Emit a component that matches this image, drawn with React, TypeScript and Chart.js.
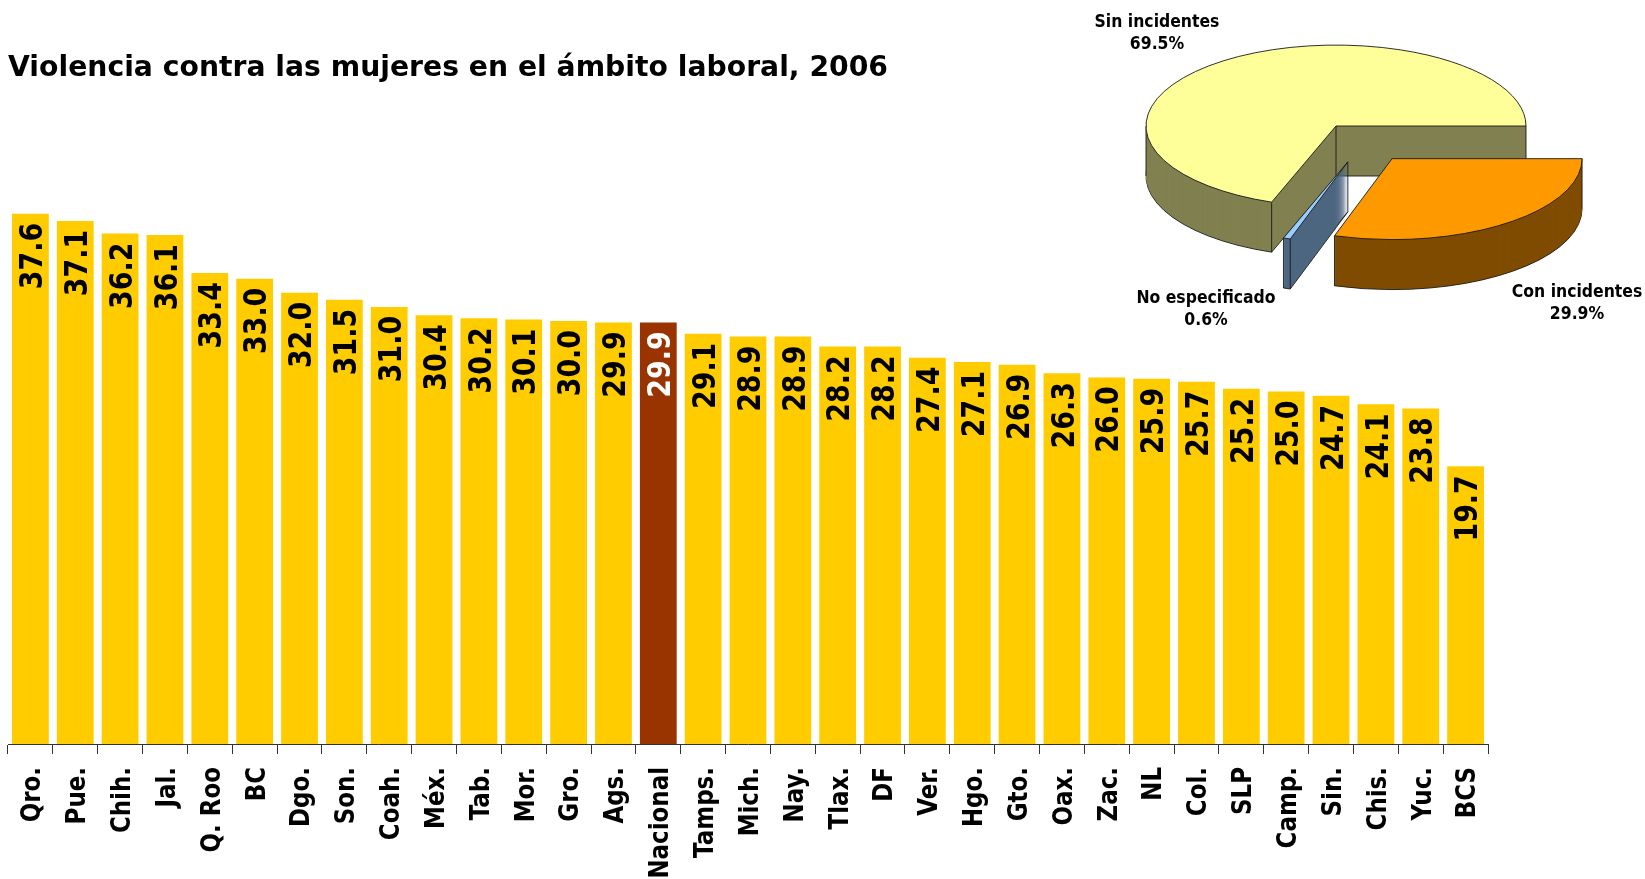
import React, { useEffect, useRef } from "react";
import { Chart, registerables } from "chart.js";
Chart.register(...registerables);

const TITLE = "Violencia contra las mujeres en el ámbito laboral, 2006";

const states = [
  "Qro.", "Pue.", "Chih.", "Jal.", "Q. Roo", "BC", "Dgo.", "Son.", "Coah.", "Méx.",
  "Tab.", "Mor.", "Gro.", "Ags.", "Nacional", "Tamps.", "Mich.", "Nay.", "Tlax.", "DF",
  "Ver.", "Hgo.", "Gto.", "Oax.", "Zac.", "NL", "Col.", "SLP", "Camp.", "Sin.",
  "Chis.", "Yuc.", "BCS",
];
const values = [
  37.6, 37.1, 36.2, 36.1, 33.4, 33.0, 32.0, 31.5, 31.0, 30.4,
  30.2, 30.1, 30.0, 29.9, 29.9, 29.1, 28.9, 28.9, 28.2, 28.2,
  27.4, 27.1, 26.9, 26.3, 26.0, 25.9, 25.7, 25.2, 25.0, 24.7,
  24.1, 23.8, 19.7,
];
const HIGHLIGHT = "Nacional";

const pieLabels = ["Con incidentes", "No especificado", "Sin incidentes"];
const pieValues = [29.9, 0.6, 69.5];

// ---- styles ----
const FONT = '"DejaVu Sans", Verdana, sans-serif';
const BAR_COLOR = "#FFCC00";
const HIGHLIGHT_COLOR = "#993300";
const PIE_TOP = ["#FF9900", "#99CCFF", "#FFFF99"];
const PIE_WALL = ["#7F4C00", "#4D6680", "#808050"];
const PIE_EXPLODE = [
  { dist: 95, dir: null as number | null },
  { dist: 85, dir: 82 },
  { dist: 0, dir: null as number | null },
];
const PIE_TILT = 0.426;
const PIE_DEPTH = 50;
const PIE_LEFT = 1080;
const PIE_LABEL_POS = [
  { x: 1577, y: 296.5 },
  { x: 1206, y: 302.5 },
  { x: 1157, y: 26.5 },
];

function drawText(
  ctx: CanvasRenderingContext2D,
  text: string,
  x: number,
  y: number,
  font: string,
  sx: number,
  angle: number,
  align: CanvasTextAlign,
  color: string
) {
  ctx.save();
  ctx.translate(x, y);
  ctx.rotate(angle);
  ctx.scale(sx, 1);
  ctx.font = font;
  ctx.textAlign = align;
  ctx.textBaseline = "alphabetic";
  ctx.fillStyle = color;
  ctx.fillText(text, 0, 0);
  ctx.restore();
}

const barLabels = {
  id: "barLabels",
  afterDatasetsDraw(chart: any) {
    const ctx = chart.ctx as CanvasRenderingContext2D;
    const meta = chart.getDatasetMeta(0);
    const xScale = chart.scales.x;
    const valFs = 32;
    const labFs = 27;
    meta.data.forEach((el: any, i: number) => {
      const { x, y } = el.getProps(["x", "y"], true);
      const isHi = states[i] === HIGHLIGHT;
      drawText(
        ctx,
        values[i].toFixed(1),
        x + 0.3645 * valFs,
        y + 9,
        `bold ${valFs}px ${FONT}`,
        0.84,
        -Math.PI / 2,
        "right",
        isHi ? "#FFFFFF" : "#000000"
      );
      const lx = xScale.getPixelForValue(i);
      drawText(
        ctx,
        states[i],
        lx + 0.3645 * labFs,
        767,
        `bold ${labFs}px ${FONT}`,
        0.85,
        -Math.PI / 2,
        "right",
        "#000000"
      );
    });
    // title
    const tf = `bold 29px ${FONT}`;
    ctx.save();
    ctx.font = tf;
    const w = ctx.measureText(TITLE).width;
    ctx.restore();
    drawText(ctx, TITLE, 8, 76, tf, 880 / w, 0, "left", "#000000");
  },
};

const pie3d = {
  id: "pie3d",
  afterDatasetsDraw(chart: any) {
    const ctx = chart.ctx as CanvasRenderingContext2D;
    const meta = chart.getDatasetMeta(0);
    const order = [2, 1, 0];
    const edge = "rgba(25,25,25,0.9)";
    for (const i of order) {
      const el = meta.data[i];
      const { x, y, startAngle, endAngle, outerRadius } = el.getProps(
        ["x", "y", "startAngle", "endAngle", "outerRadius"],
        true
      );
      const ex = PIE_EXPLODE[i];
      const dir = ex.dir !== null ? (ex.dir * Math.PI) / 180 : (startAngle + endAngle) / 2;
      const cx = x + Math.cos(dir) * ex.dist;
      const cy = y + Math.sin(dir) * ex.dist * PIE_TILT;
      const R = outerRadius;
      const path = (d: number) => {
        ctx.save();
        ctx.translate(cx, cy + d);
        ctx.scale(1, PIE_TILT);
        ctx.beginPath();
        ctx.moveTo(0, 0);
        ctx.arc(0, 0, R, startAngle, endAngle);
        ctx.closePath();
        ctx.restore();
      };
      ctx.save();
      ctx.lineWidth = 1;
      ctx.strokeStyle = edge;
      ctx.fillStyle = PIE_WALL[i];
      path(PIE_DEPTH);
      ctx.fill();
      ctx.stroke();
      for (let d = PIE_DEPTH - 1; d >= 1; d--) {
        path(d);
        ctx.fill();
      }
      // vertical edges
      const pts: number[][] = [[cx, cy]];
      const angs = [startAngle, endAngle];
      for (const a of [0, Math.PI, 2 * Math.PI]) {
        if (a > startAngle && a < endAngle) angs.push(a);
      }
      for (const a of angs) pts.push([cx + R * Math.cos(a), cy + R * Math.sin(a) * PIE_TILT]);
      ctx.beginPath();
      for (const p of pts) {
        ctx.moveTo(p[0], p[1]);
        ctx.lineTo(p[0], p[1] + PIE_DEPTH);
      }
      ctx.stroke();
      ctx.fillStyle = PIE_TOP[i];
      path(0);
      ctx.fill();
      ctx.stroke();
      ctx.restore();
    }
    // labels
    pieLabels.forEach((lab, i) => {
      const p = PIE_LABEL_POS[i];
      drawText(ctx, lab, p.x - PIE_LEFT, p.y, `bold 18px ${FONT}`, 0.87, 0, "center", "#000");
      drawText(
        ctx,
        pieValues[i].toFixed(1) + "%",
        p.x - PIE_LEFT,
        p.y + 22,
        `bold 18px ${FONT}`,
        0.87,
        0,
        "center",
        "#000"
      );
    });
  },
};

export default function App() {
  const barRef = useRef<HTMLCanvasElement>(null);
  const pieRef = useRef<HTMLCanvasElement>(null);

  useEffect(() => {
    const bar = new Chart(barRef.current!, {
      type: "bar",
      data: {
        labels: states,
        datasets: [
          {
            data: values,
            backgroundColor: states.map((s) => (s === HIGHLIGHT ? HIGHLIGHT_COLOR : BAR_COLOR)),
            borderWidth: 0,
            barPercentage: 0.82,
            categoryPercentage: 1.0,
          },
        ],
      },
      options: {
        responsive: false,
        animation: false,
        layout: { padding: { top: 180, bottom: 125, left: 8, right: 157 } },
        plugins: { legend: { display: false }, tooltip: { enabled: false }, title: { display: false } },
        scales: {
          x: {
            offset: true,
            ticks: { display: false },
            grid: {
              display: true,
              drawOnChartArea: false,
              drawTicks: true,
              tickLength: 10,
              color: "#333333",
              offset: true,
            },
            border: { display: true, color: "#333333", width: 1 },
          },
          y: { display: false, min: 0, max: 40 },
        },
      },
      plugins: [barLabels],
    });

    const pie = new Chart(pieRef.current!, {
      type: "pie",
      data: {
        labels: pieLabels,
        datasets: [
          {
            data: pieValues,
            backgroundColor: "rgba(0,0,0,0)",
            borderWidth: 0,
          },
        ],
      },
      options: {
        responsive: false,
        animation: false,
        rotation: 90,
        radius: 190,
        layout: { padding: { left: 56, right: 109, top: 26, bottom: 104 } },
        plugins: { legend: { display: false }, tooltip: { enabled: false } },
      } as any,
      plugins: [pie3d],
    });

    return () => {
      bar.destroy();
      pie.destroy();
    };
  }, []);

  return (
    <div style={{ position: "absolute", left: 0, top: 0, width: 1645, height: 879, overflow: "hidden", background: "#fff" }}>
      <canvas ref={barRef} width={1645} height={879} style={{ position: "absolute", left: 0, top: 0, display: "block" }} />
      <canvas ref={pieRef} width={565} height={330} style={{ position: "absolute", left: PIE_LEFT, top: 0, display: "block" }} />
    </div>
  );
}
